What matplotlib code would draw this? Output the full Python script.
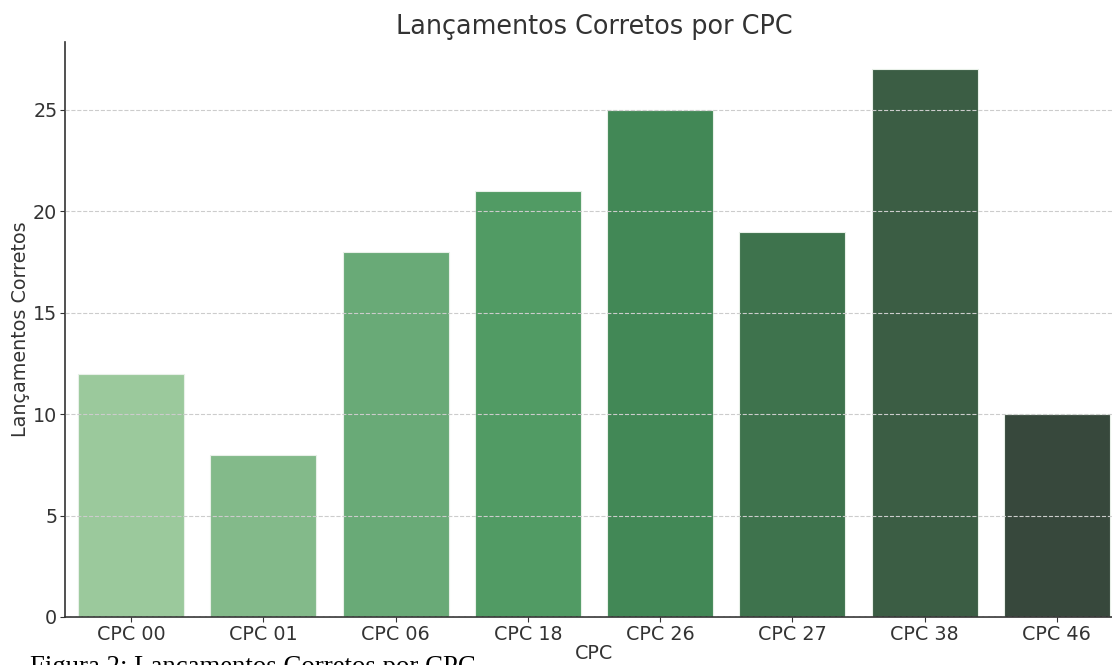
import matplotlib
matplotlib.use("Agg")
import matplotlib.pyplot as plt
import seaborn as sns
import numpy as np

categorias = ["CPC 00", "CPC 01", "CPC 06", "CPC 18", "CPC 26", "CPC 27", "CPC 38", "CPC 46"]
lancamentos = [12, 8, 18, 21, 25, 19, 27, 10]

# seaborn barplot desatura a paleta (saturation=0.75)
cores = [sns.desaturate(c, 0.75) for c in sns.color_palette("Greens_d", len(categorias))]

fig = plt.figure(figsize=(11.12, 6.65), dpi=100)
ax = fig.add_axes([65 / 1112, 48 / 665, 1058 / 1112, 575 / 665])

x = np.arange(len(categorias))
ax.bar(x, lancamentos, width=0.8, color=cores, edgecolor="#e8f0e8", linewidth=0.8, zorder=1)
ax.set_xlim(-0.5, len(categorias) - 0.5)
ax.set_ylim(0, max(lancamentos) * 1.05)
ax.set_xticks(x)
ax.set_xticklabels(categorias)

ax.set_title("Lançamentos Corretos por CPC", fontsize=18.4, color="#333333", pad=6)
ax.set_xlabel("CPC", fontsize=13.8, color="#333333", labelpad=0)
ax.set_ylabel("Lançamentos Corretos", fontsize=13.8, color="#333333", labelpad=2)
ax.tick_params(labelsize=13.8, colors="#333333", pad=2)
ax.yaxis.grid(True, linestyle="--", color="#cccccc", linewidth=0.8, zorder=2)
ax.set_axisbelow(False)
for s in ["top", "right"]:
    ax.spines[s].set_visible(False)
for s in ["left", "bottom"]:
    ax.spines[s].set_color("#333333")
    ax.spines[s].set_linewidth(1.2)

fig.text(30 / 1112, 1 - 655 / 665, "Figura 2: Lançamentos Corretos por CPC",
         family="Liberation Serif", fontsize=19.3, va="top", ha="left", color="black")

fig.savefig("out.png", dpi=100)
